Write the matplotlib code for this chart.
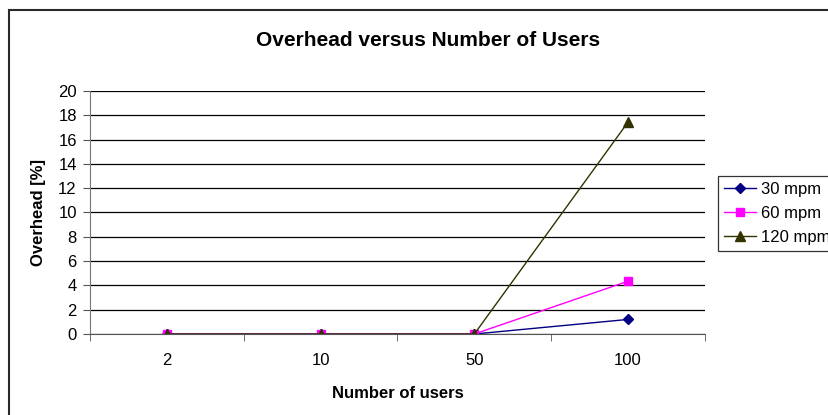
import numpy as np
import matplotlib.pyplot as plt
from matplotlib.patches import Rectangle

users = ['2', '10', '50', '100']
mpm_30 = [0, 0, 0, 1.2]
mpm_60 = [0, 0, 0, 4.35]
mpm_120 = [0, 0, 0, 17.45]
y_ticks = list(range(0, 21, 2))

plt.rcParams['font.family'] = ['Liberation Sans', 'DejaVu Sans']

W, H = 829, 415
fig = plt.figure(figsize=(W / 100, H / 100), dpi=100)

# chart frame, runs off the right and bottom edges
fig.patches.append(Rectangle((9.5 / W, -0.05), 1.0, 1 - 10.5 / H + 0.05,
                             transform=fig.transFigure, fill=False,
                             edgecolor='#2a2a2a', linewidth=1.5))

ax = fig.add_axes([90 / W, (H - 334) / H, 615 / W, 243 / H])
x = np.arange(len(users))

ax.plot(x, mpm_30, color='#000080', marker='D', markersize=5, linewidth=1, label='30 mpm')
ax.plot(x, mpm_60, color='#FF00FF', marker='s', markersize=6, linewidth=1, label='60 mpm')
ax.plot(x, mpm_120, color='#333300', marker='^', markersize=7, linewidth=1, label='120 mpm')

ax.set_xlim(-0.5, len(users) - 0.5)
ax.set_ylim(0, 20)
ax.set_yticks(y_ticks)
ax.set_yticklabels([str(v) for v in y_ticks], fontsize=12)
ax.yaxis.grid(True, color='black', linewidth=0.9)
ax.set_axisbelow(True)

ax.set_xticks(x)
ax.set_xticklabels(users, fontsize=12)
ax.set_xticks(np.arange(len(users) + 1) - 0.5, minor=True)
ax.tick_params(axis='x', which='major', length=0, pad=13.5)
ax.tick_params(axis='x', which='minor', length=5, direction='out', color='#555555')
ax.tick_params(axis='y', length=5, direction='out', color='#555555', pad=4.5)

for side in ['top', 'right']:
    ax.spines[side].set_visible(False)
ax.spines['left'].set_color('#777777')
ax.spines['bottom'].set_color('#555555')

ax.set_ylabel('Overhead [%]', fontsize=12, fontweight='bold', va='center')
ax.yaxis.set_label_coords((38.5 - 90) / 615, 0.5)
ax.set_xlabel('Number of users', fontsize=12, fontweight='bold', va='baseline')
ax.xaxis.set_label_coords(0.5, -(398 - 334) / 243)

fig.text(428 / W, 1 - 45.5 / H, 'Overhead versus Number of Users', ha='center', va='baseline',
         fontsize=15, fontweight='bold')

# legend box sits against the right edge, last label runs past it
leg = fig.legend(loc='upper left', bbox_to_anchor=(718 / W, 1 - 176 / H), fontsize=12,
                 frameon=True, fancybox=False, edgecolor='black', handlelength=1.95,
                 borderpad=0.35, labelspacing=0.55, handletextpad=0.3, borderaxespad=0)
leg.get_frame().set_linewidth(0.9)

fig.savefig('out.png', dpi=100)
